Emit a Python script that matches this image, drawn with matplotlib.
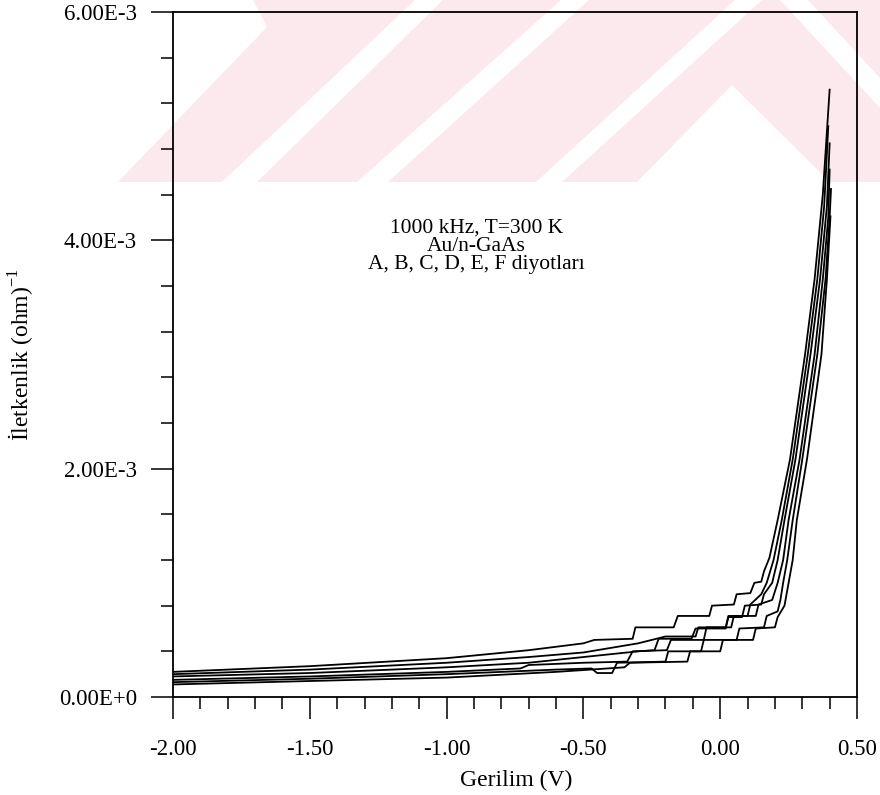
import matplotlib
matplotlib.use("Agg")
import matplotlib.pyplot as plt
from matplotlib.patches import Polygon
from matplotlib.ticker import MultipleLocator, FixedLocator

# ---------------- data (G in 1e-3 ohm^-1) ----------------
V_A = [-2.0, -1.5, -1.0, -0.7, -0.5, -0.46, -0.32, -0.31, -0.17, -0.155, -0.04, -0.03, 0.05, 0.06,
       0.11, 0.125, 0.15, 0.16, 0.18, 0.21, 0.255, 0.31, 0.345, 0.375, 0.40]
G_A = [0.22, 0.27, 0.34, 0.41, 0.47, 0.50, 0.51, 0.61, 0.61, 0.71, 0.71, 0.80, 0.81, 0.90,
       0.91, 1.00, 1.01, 1.10, 1.22, 1.55, 2.08, 3.00, 3.66, 4.40, 5.32]

V_B = [-2.0, -1.5, -1.0, -0.7, -0.5, -0.3, -0.2, -0.09, -0.08, 0.02, 0.03, 0.10, 0.11, 0.15,
       0.17, 0.195, 0.225, 0.265, 0.32, 0.355, 0.38, 0.395]
G_B = [0.20, 0.24, 0.30, 0.35, 0.39, 0.47, 0.53, 0.53, 0.61, 0.61, 0.71, 0.71, 0.81, 0.90,
       1.00, 1.20, 1.55, 2.08, 3.00, 3.66, 4.30, 5.00]

V_C = [-2.0, -1.5, -1.0, -0.7, -0.5, -0.3, -0.24, -0.225, -0.105, -0.09, 0.02, 0.03, 0.08, 0.09,
       0.15, 0.16, 0.19, 0.21, 0.235, 0.275, 0.33, 0.365, 0.39, 0.40]
G_C = [0.18, 0.21, 0.26, 0.30, 0.35, 0.40, 0.41, 0.51, 0.51, 0.60, 0.60, 0.70, 0.70, 0.80,
       0.81, 0.90, 1.00, 1.20, 1.55, 2.08, 3.00, 3.66, 4.30, 4.85]

V_D = [-2.0, -1.5, -1.0, -0.73, -0.70, -0.5, -0.34, -0.32, -0.195, -0.18, -0.06, -0.05, 0.04, 0.05,
       0.13, 0.14, 0.19, 0.21, 0.23, 0.25, 0.29, 0.345, 0.375, 0.395, 0.40]
G_D = [0.15, 0.18, 0.22, 0.25, 0.28, 0.30, 0.31, 0.40, 0.41, 0.50, 0.50, 0.61, 0.61, 0.71,
       0.71, 0.81, 0.85, 1.00, 1.20, 1.55, 2.08, 3.00, 3.66, 4.20, 4.62]

V_E = [-2.0, -1.5, -1.0, -0.6, -0.47, -0.45, -0.395, -0.377, -0.2, -0.19, -0.07, -0.06, 0.06, 0.07,
       0.16, 0.17, 0.21, 0.22, 0.23, 0.245, 0.265, 0.30, 0.355, 0.385, 0.40, 0.405]
G_E = [0.13, 0.16, 0.20, 0.24, 0.25, 0.21, 0.21, 0.30, 0.31, 0.40, 0.40, 0.50, 0.50, 0.60,
       0.61, 0.71, 0.75, 0.85, 1.00, 1.20, 1.55, 2.08, 3.00, 3.66, 4.20, 4.45]

V_F = [-2.0, -1.5, -1.0, -0.6, -0.35, -0.33, -0.12, -0.11, 0.0, 0.01, 0.12, 0.13, 0.20, 0.21,
       0.235, 0.25, 0.265, 0.28, 0.317, 0.37, 0.39, 0.403]
G_F = [0.11, 0.14, 0.17, 0.22, 0.26, 0.30, 0.31, 0.40, 0.40, 0.50, 0.50, 0.60, 0.61, 0.70,
       0.80, 1.00, 1.20, 1.55, 2.08, 3.00, 3.66, 4.21]

series = [(V_A, G_A), (V_B, G_B), (V_C, G_C), (V_D, G_D), (V_E, G_E), (V_F, G_F)]

x_ticks = [-2.0, -1.5, -1.0, -0.5, 0.0, 0.5]
x_labels = ["-2.00", "-1.50", "-1.00", "-0.50", "0.00", "0.50"]
y_ticks = [0.0, 2.0e-3, 4.0e-3, 6.0e-3]
y_labels = ["0.00E+0", "2.00E-3", "4.00E-3", "6.00E-3"]

annotation = "1000 kHz, T=300 K\nAu/n-GaAs\nA, B, C, D, E, F diyotları"
xlabel = "Gerilim (V)"
ylabel = "İletkenlik (ohm)$^{\\mathrm{-1}}$"

# ---------------- style ----------------
W, H = 880, 795
plt.rcParams['font.family'] = ['Liberation Serif', 'DejaVu Serif']
plt.rcParams['mathtext.fontset'] = 'custom'
plt.rcParams['mathtext.rm'] = 'Liberation Serif'
plt.rcParams['axes.unicode_minus'] = False

fig = plt.figure(figsize=(W / 100, H / 100), dpi=100)

# watermark stripes (pixel coords, top-left origin)
pink = (0.99, 0.915, 0.93)
wm_polys = [
    [(118, 182), (222, 182), (415, 0), (253, 0), (267, 27)],
    [(257, 182), (357, 182), (561, 0), (443, 0)],
    [(388, 182), (536, 182), (735, 0), (589, 0)],
    [(562, 182), (637, 182), (732, 85), (830, 182), (880, 182), (880, 108), (780, 0), (762, 0)],
    [(808, 0), (880, 0), (880, 78)],
]
for poly in wm_polys:
    pts = [(px / W, 1 - py / H) for px, py in poly]
    fig.patches.append(Polygon(pts, closed=True, transform=fig.transFigure,
                               facecolor=pink, edgecolor='none', zorder=0))

ax = fig.add_axes([173 / W, 1 - 697 / H, (857 - 173) / W, (697 - 12) / H])
ax.set_facecolor('none')
ax.set_zorder(2)

for V, G in series:
    ax.plot(V, [g * 1e-3 for g in G], color='black', lw=1.3)

ax.set_xlim(-2.0, 0.5)
ax.set_ylim(0, 6.0e-3)
ax.xaxis.set_major_locator(FixedLocator(x_ticks))
ax.set_xticklabels(x_labels)
ax.xaxis.set_minor_locator(MultipleLocator(0.1))
ax.yaxis.set_major_locator(FixedLocator(y_ticks))
ax.set_yticklabels(y_labels)
ax.yaxis.set_minor_locator(MultipleLocator(0.4e-3))

ax.tick_params(axis='both', which='major', direction='out', length=16, width=1.1,
               labelsize=16.5, colors='black')
ax.tick_params(axis='both', which='minor', direction='out', length=8.5, width=1.1)
ax.tick_params(axis='x', which='major', pad=14)
ax.tick_params(axis='y', which='major', pad=10)
for s in ax.spines.values():
    s.set_linewidth(1.3)

ax.set_xlabel(xlabel, fontsize=17)
ax.xaxis.set_label_coords(0.502, (697 - 791) / 685)
ax.xaxis.label.set_va('bottom')
ax.set_ylabel(ylabel, fontsize=17)
ax.yaxis.set_label_coords((37 - 173) / 684, 0.5)

ax.text(0.444, 0.658, annotation, transform=ax.transAxes, ha='center', va='center',
        fontsize=15.5, linespacing=0.98)

fig.savefig("out.png", dpi=100)
